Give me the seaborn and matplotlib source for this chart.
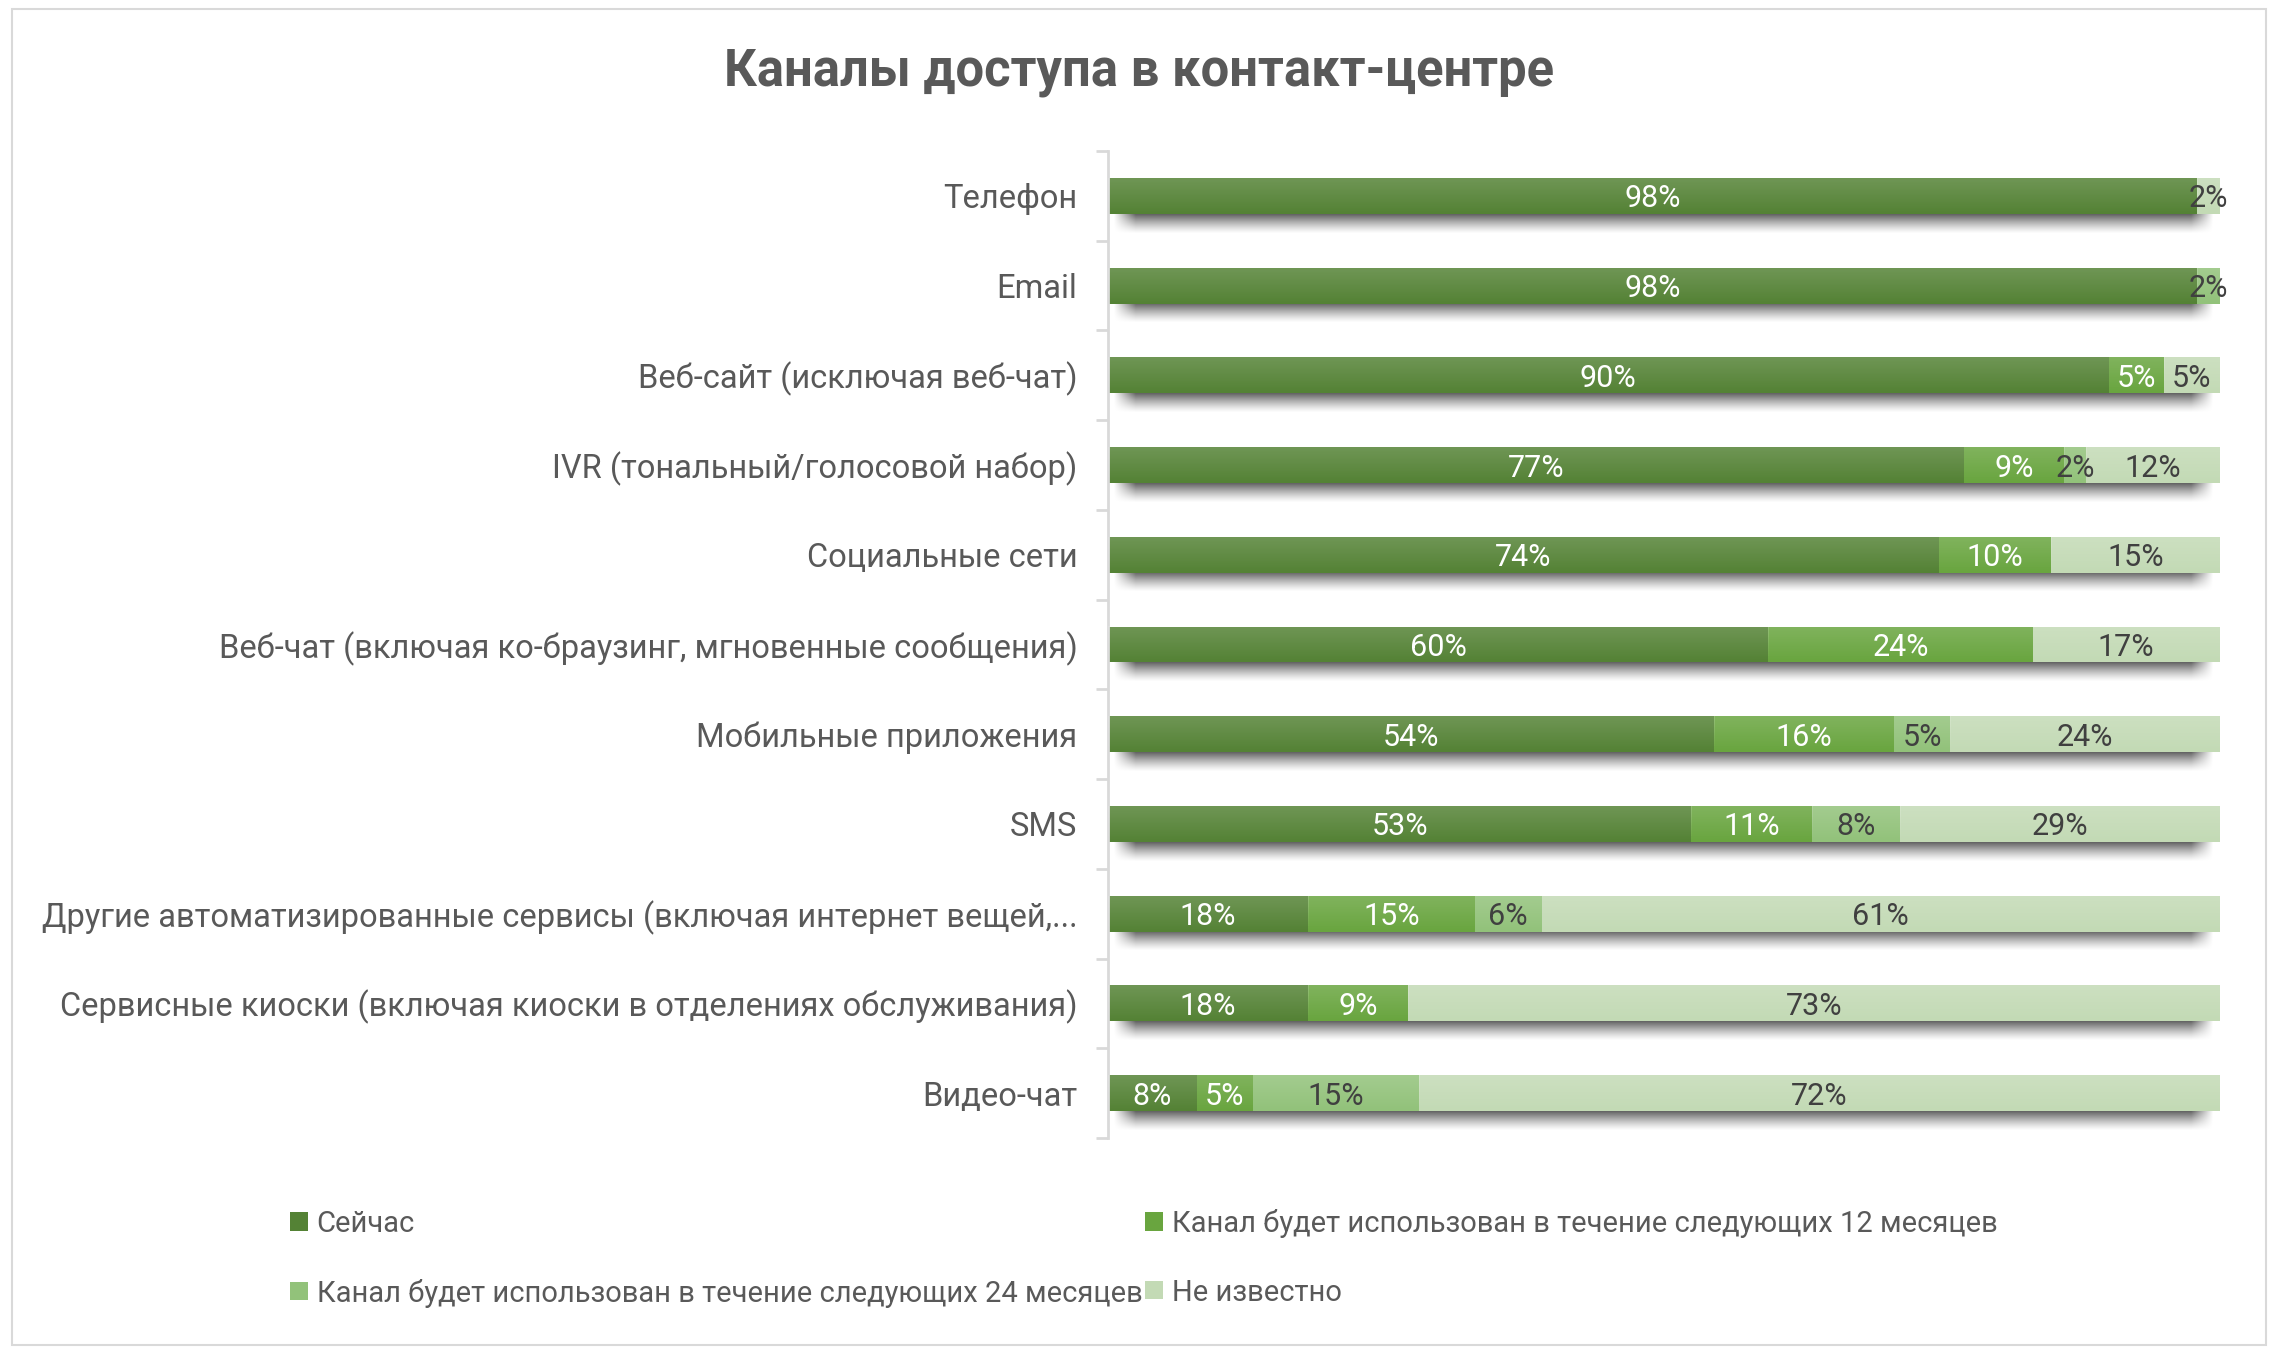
import numpy as np
import pandas as pd
import matplotlib
matplotlib.use("Agg")
import matplotlib.pyplot as plt
import seaborn as sns
from matplotlib.patches import Patch, Rectangle

# data (percent of respondents)
channels = [
    "Телефон",
    "Email",
    "Веб-сайт (исключая веб-чат)",
    "IVR (тональный/голосовой набор)",
    "Социальные сети",
    "Веб-чат (включая ко-браузинг, мгновенные сообщения)",
    "Мобильные приложения",
    "SMS",
    "Другие автоматизированные сервисы (включая интернет вещей,...",
    "Сервисные киоски (включая киоски в отделениях обслуживания)",
    "Видео-чат",
]
now = [98, 98, 90, 77, 74, 60, 54, 53, 18, 18, 8]
in_12m = [0, 0, 5, 9, 10, 24, 16, 11, 15, 9, 5]
in_24m = [0, 2, 0, 2, 0, 0, 5, 8, 6, 0, 15]
unknown = [2, 0, 5, 12, 15, 17, 24, 29, 61, 73, 72]

series_names = [
    "Сейчас",
    "Канал будет использован в течение следующих 12 месяцев",
    "Канал будет использован в течение следующих 24 месяцев",
    "Не известно",
]
colors = ["#548235", "#69a53f", "#92c27a", "#c3dab5"]
label_colors = ["white", "white", "#404040", "#404040"]

values = [now, in_12m, in_24m, unknown]
rows = []
for name, vals in zip(series_names, values):
    for ch, v in zip(channels, vals):
        rows.append({"channel": ch, "series": name, "value": v})
df = pd.DataFrame(rows)

sns.set_style("white")
plt.rcParams["font.family"] = ["Roboto", "DejaVu Sans"]
text_col = "#595959"

fig = plt.figure(figsize=(22.78, 13.56), dpi=100)
ax = fig.add_axes([0.4864, 0.1608, 0.488, 0.7278])

# 100% stacked bars; seaborn stacks the first hue level farthest out, so reverse
sns.histplot(data=df, y="channel", hue="series", weights="value",
             multiple="fill", discrete=True, shrink=0.4,
             hue_order=series_names[::-1], palette=dict(zip(series_names, colors)),
             alpha=1, linewidth=0, legend=False, ax=ax, zorder=2)

bar_h = 0.4
# soft lighter top on each segment
grad = np.zeros((64, 1, 4))
grad[..., :3] = 1.0
grad[:, 0, 3] = np.linspace(0.16, 0.0, 64)
for p in list(ax.patches):
    if p.get_width() <= 0:
        continue
    x0, y0 = p.get_x(), p.get_y()
    ax.imshow(grad, extent=(x0, x0 + p.get_width(), y0 + p.get_height(), y0),
              origin="upper", aspect="auto", zorder=3, interpolation="bilinear")

# drop shadow under every bar
sh = np.zeros((40, 200, 4))
vfall = np.linspace(1, 0, 40) ** 1.3
hx = np.linspace(0, 1, 200)
hfall = np.clip(np.minimum(hx, 1 - hx) / 0.02, 0, 1)
sh[..., 3] = 0.7 * vfall[:, None] * hfall[None, :]
for i in range(len(channels)):
    top = i + bar_h / 2 - 0.02
    ax.imshow(sh, extent=(0.003, 0.997, top + 0.24, top), origin="upper",
              aspect="auto", zorder=1, interpolation="bilinear")

# data labels
totals = np.sum(values, axis=0)
for s, vals in enumerate(values):
    left = np.sum(values[:s], axis=0) if s else np.zeros(len(channels))
    for i, v in enumerate(vals):
        if v == 0:
            continue
        xc = (left[i] + v / 2) / totals[i]
        ax.text(xc, i, f"{v}%", ha="center", va="center_baseline", fontsize=22,
                color=label_colors[s], zorder=4)

ax.set_xlim(0, 1)
ax.set_ylim(len(channels) - 0.5, -0.5)
ax.set_yticks(range(len(channels)))
ax.set_yticklabels(channels, fontsize=23.5, color=text_col)
ax.set_yticks(np.arange(-0.5, len(channels), 1), minor=True)
ax.tick_params(axis="y", which="major", length=0, pad=22)
ax.tick_params(axis="y", which="minor", length=9, width=2, color="#d9d9d9", direction="out", left=True)
ax.set_xticks([])
ax.set_xlabel("")
ax.set_ylabel("")
for side in ["top", "right", "bottom"]:
    ax.spines[side].set_visible(False)
ax.spines["left"].set_color("#d9d9d9")
ax.spines["left"].set_linewidth(2)

fig.text(0.5, 0.947, "Каналы доступа в контакт-центре", ha="center", va="center",
         fontsize=36.5, fontweight="bold", color=text_col)

order = [0, 2, 1, 3]
handles = [Patch(facecolor=colors[k], edgecolor="none") for k in order]
leg = fig.legend(handles, [series_names[k] for k in order], ncol=2,
                 loc="upper left", bbox_to_anchor=(0.116, 0.128), frameon=False,
                 fontsize=21, handlelength=0.6, handleheight=0.6, handletextpad=0.3,
                 columnspacing=0.1, labelspacing=1.4)
for t in leg.get_texts():
    t.set_color(text_col)

fig.patches.append(Rectangle((0.0053, 0.0081), 0.9895, 0.985, transform=fig.transFigure,
                             fill=False, edgecolor="#d9d9d9", linewidth=1.5))

fig.savefig("out.png", dpi=100, facecolor="white")
